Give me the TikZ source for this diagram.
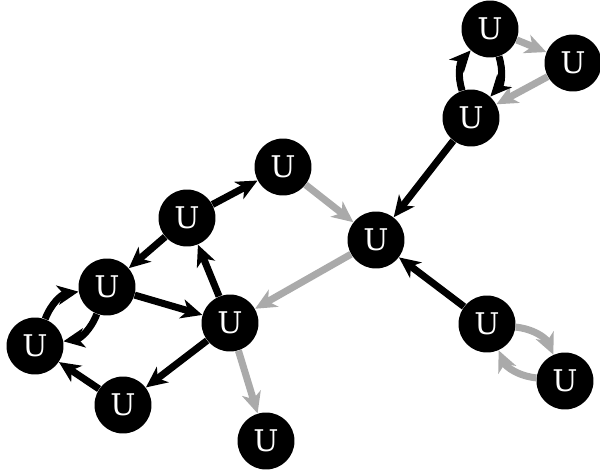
\documentclass[tikz,border=0pt]{standalone}
\usepackage{fontspec}
\setmainfont{DejaVu Serif}
\usetikzlibrary{arrows.meta}
\definecolor{edgegray}{HTML}{AAAAAA}
\begin{document}
\begin{tikzpicture}[x=0.02cm,y=-0.02cm,
    unode/.style={circle,fill=black,minimum size=1.14cm,inner sep=0pt,
        text=white,font=\fontsize{17}{17}\selectfont},
    blk/.style={line width=4pt,black,-{Stealth[length=12pt,width=11pt,inset=3.5pt]}},
    gry/.style={line width=4pt,edgegray,-{Stealth[length=12pt,width=11pt,inset=3.5pt]}}]
                    \useasboundingbox (0,0) rectangle (600,474);

                    \node[unode] (a) at (490,29) {U};
                    \node[unode] (b) at (573,63) {U};
                    \node[unode] (c) at (471,118) {U};
                    \node[unode] (d) at (283,167) {U};
                    \node[unode] (e) at (376,240) {U};
                    \node[unode] (f) at (187,218) {U};
                    \node[unode] (g) at (107,287) {U};
                    \node[unode] (h) at (35,346) {U};
                    \node[unode] (i) at (230,323) {U};
                    \node[unode] (j) at (123,405) {U};
                    \node[unode] (k) at (266,441) {U};
                    \node[unode] (l) at (487,324) {U};
                    \node[unode] (m) at (565,381) {U};

                    \draw[gry] (a) -- (b);
                    \draw[gry] (b) -- (c);
                    \draw[blk] (a) to[bend left=30] (c);
                    \draw[blk] (c) to[bend left=30] (a);
                    \draw[blk] (c) -- (e);
                    \draw[gry] (d) -- (e);
                    \draw[gry] (e) -- (i);
                    \draw[blk] (l) -- (e);
                    \draw[gry] (l) to[bend left=30] (m);
                    \draw[gry] (m) to[bend left=30] (l);
                    \draw[blk] (f) -- (d);
                    \draw[blk] (f) -- (g);
                    \draw[blk] (g) -- (i);
                    \draw[blk] (i) -- (f);
                    \draw[blk] (i) -- (j);
                    \draw[gry] (i) -- (k);
                    \draw[blk] (j) -- (h);
                    \draw[blk] (h) to[bend left=30] (g);
                    \draw[blk] (g) to[bend left=30] (h);
\end{tikzpicture}
\end{document}
